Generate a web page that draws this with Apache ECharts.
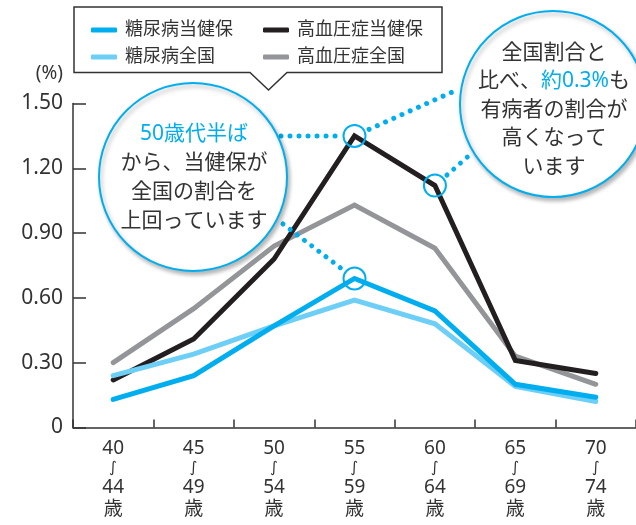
<!DOCTYPE html>
<html>
<head>
<meta charset="utf-8">
<script src="https://cdn.jsdelivr.net/npm/echarts@6/dist/echarts.min.js"></script>
<style>
html,body{margin:0;padding:0;background:#fff;}
#chart{width:636px;height:525px;}
</style>
</head>
<body>
<div id="chart"></div>
<script>
// ---- data ----
var categories = ['40～44歳', '45～49歳', '50～54歳', '55～59歳', '60～64歳', '65～69歳', '70～74歳'];
var dmKenpo    = [0.13, 0.24, 0.47, 0.69, 0.54, 0.20, 0.14];   // 糖尿病当健保
var dmZenkoku  = [0.24, 0.34, 0.47, 0.59, 0.48, 0.19, 0.12];   // 糖尿病全国
var htKenpo    = [0.22, 0.41, 0.78, 1.35, 1.12, 0.31, 0.25];   // 高血圧症当健保
var htZenkoku  = [0.30, 0.55, 0.84, 1.03, 0.83, 0.33, 0.20];   // 高血圧症全国
var yTicks     = [0, 0.30, 0.60, 0.90, 1.20, 1.50];
var seriesNames = ['糖尿病当健保', '糖尿病全国', '高血圧症当健保', '高血圧症全国'];

var C_BLUE = '#00AEEF', C_LBLUE = '#6DCFF6', C_BLACK = '#231F20', C_GRAY = '#939598';
var TXT = '#333333';
var FONT = "'Noto Sans', 'Noto Sans CJK JP', sans-serif";

var chart = echarts.init(document.getElementById('chart'), null, {renderer: 'canvas'});

function lineSeries(name, data, color) {
  return {
    name: name, type: 'line', data: data, symbol: 'none', smooth: false,
    lineStyle: {color: color, width: 5, cap: 'round', join: 'miter'},
    itemStyle: {color: color},
    emphasis: {disabled: true}
  };
}

var option = {
  animation: false,
  textStyle: {fontFamily: FONT},
  grid: {left: 73, right: -4, top: 103.5, bottom: 97.5},
  legend: [
    {
      data: [seriesNames[0], seriesNames[1]],
      orient: 'vertical', left: 86, top: 15,
      itemWidth: 26, itemHeight: 5, itemGap: 7, icon: 'roundRect',
      textStyle: {fontSize: 18, color: TXT, fontFamily: FONT, lineHeight: 20, padding: [0, 0, 0, 3]},
      selectedMode: false
    },
    {
      data: [seriesNames[2], seriesNames[3]],
      orient: 'vertical', left: 258, top: 15,
      itemWidth: 26, itemHeight: 5, itemGap: 7, icon: 'roundRect',
      textStyle: {fontSize: 18, color: TXT, fontFamily: FONT, lineHeight: 20, padding: [0, 0, 0, 3]},
      selectedMode: false
    }
  ],
  xAxis: {
    type: 'category', data: categories, boundaryGap: true,
    axisLine: {lineStyle: {color: TXT, width: 1.5}},
    axisTick: {show: true, inside: true, length: 8, interval: 0, lineStyle: {color: TXT, width: 1.5}},
    axisLabel: {
      interval: 0, margin: 11, color: TXT, fontSize: 19, lineHeight: 20, fontFamily: FONT,
      formatter: function (v) {
        var m = v.match(/^(\d+)～(\d+)(.*)$/);
        return '{n|' + m[1] + '}\n{w|∫}\n{n|' + m[2] + '}\n{k|' + m[3] + '}';
      },
      rich: {
        n: {fontSize: 19, lineHeight: 20, color: TXT, fontFamily: FONT},
        w: {fontSize: 15, lineHeight: 19, color: TXT, fontFamily: "'DejaVu Sans', sans-serif"},
        k: {fontSize: 19, lineHeight: 24, color: TXT, fontFamily: FONT}
      }
    },
    splitLine: {show: false}
  },
  yAxis: {
    type: 'value', min: 0, max: 1.5, interval: 0.3,
    name: '(%)', nameLocation: 'end', nameGap: 30,
    nameTextStyle: {color: TXT, fontSize: 19, align: 'right', verticalAlign: 'middle', padding: [0, 10, 0, 0], fontFamily: FONT},
    axisLine: {show: true, lineStyle: {color: TXT, width: 1.5}},
    axisTick: {show: true, inside: true, length: 13, lineStyle: {color: TXT, width: 1.5}},
    axisLabel: {
      color: TXT, fontSize: 21, margin: 10, fontFamily: FONT,
      formatter: function (v) {
        for (var i = 0; i < yTicks.length; i++) {
          if (Math.abs(yTicks[i] - v) < 1e-9) return v === 0 ? '0' : yTicks[i].toFixed(2);
        }
        return '';
      }
    },
    splitLine: {show: false}
  },
  series: [
    lineSeries(seriesNames[3], htZenkoku, C_GRAY),
    lineSeries(seriesNames[2], htKenpo, C_BLACK),
    lineSeries(seriesNames[1], dmZenkoku, C_LBLUE),
    lineSeries(seriesNames[0], dmKenpo, C_BLUE)
  ]
};
chart.setOption(option);

// ---- annotations anchored to data points ----
function px(i, v) { return chart.convertToPixel({xAxisIndex: 0, yAxisIndex: 0}, [i, v]); }
var m1 = px(3, htKenpo[3]);   // 55-59 高血圧症当健保
var m2 = px(3, dmKenpo[3]);   // 55-59 糖尿病当健保
var m3 = px(4, htKenpo[4]);   // 60-64 高血圧症当健保
var MR = 11;

function towards(from, to, d) {
  var dx = to[0] - from[0], dy = to[1] - from[1];
  var L = Math.sqrt(dx * dx + dy * dy);
  return [from[0] + dx / L * d, from[1] + dy / L * d];
}
function dotted(a, b) {
  return {
    type: 'line', z: 12,
    shape: {x1: a[0], y1: a[1], x2: b[0], y2: b[1]},
    style: {stroke: C_BLUE, lineWidth: 5, lineDash: [0.01, 9], lineCap: 'round'},
    silent: true
  };
}
function marker(p) {
  return {type: 'circle', z: 13, shape: {cx: p[0], cy: p[1], r: MR},
    style: {fill: 'none', stroke: C_BLUE, lineWidth: 2}, silent: true};
}

var L1s = [281, m1[1]];
var L2s = [283, 224];
var R1e = [459, 89];
var R2e = [472, 153];

var graphics = [
  // legend frame with pointer
  {
    type: 'polygon', z: 1,
    shape: {points: [[74, 7], [442, 7], [442, 72.5], [287, 72.5], [268.5, 90], [250, 72.5], [74, 72.5]]},
    style: {fill: '#fff', stroke: TXT, lineWidth: 1.5}, silent: true
  },
  dotted(L1s, towards(m1, L1s, MR + 4)),
  dotted(L2s, towards(m2, L2s, MR + 4)),
  dotted(towards(m1, R1e, MR + 5), R1e),
  dotted(towards(m3, R2e, MR + 5), R2e),
  marker(m1), marker(m2), marker(m3),
  // left callout
  {
    type: 'circle', z: 14, shape: {cx: 193, cy: 177, r: 94},
    style: {fill: '#fff', stroke: C_BLUE, lineWidth: 2,
      shadowBlur: 4, shadowOffsetX: 2, shadowOffsetY: 3, shadowColor: 'rgba(0,0,0,0.28)'},
    silent: true
  },
  {
    type: 'text', z: 15, x: 194, y: 178,
    style: {
      text: '{c|50歳代半ば}\n{d|から、当健保が}\n{d|全国の割合を}\n{d|上回っています}',
      align: 'center', verticalAlign: 'middle',
      rich: {
        c: {fill: C_BLUE, fontSize: 21, lineHeight: 29, fontFamily: FONT},
        d: {fill: TXT, fontSize: 21, lineHeight: 29, fontFamily: FONT}
      }
    },
    silent: true
  },
  // right callout
  {
    type: 'circle', z: 14, shape: {cx: 553, cy: 104, r: 93},
    style: {fill: '#fff', stroke: C_BLUE, lineWidth: 2,
      shadowBlur: 4, shadowOffsetX: 2, shadowOffsetY: 3, shadowColor: 'rgba(0,0,0,0.28)'},
    silent: true
  },
  {
    type: 'text', z: 15, x: 554, y: 110,
    style: {
      text: '{d|全国割合と}\n{d|比べ、}{c|約0.3%}{d|も}\n{d|有病者の割合が}\n{d|高くなって}\n{d|います}',
      align: 'center', verticalAlign: 'middle',
      rich: {
        c: {fill: C_BLUE, fontSize: 21, lineHeight: 28.5, fontFamily: FONT},
        d: {fill: TXT, fontSize: 21, lineHeight: 28.5, fontFamily: FONT}
      }
    },
    silent: true
  }
];
chart.setOption({graphic: graphics});
</script>
</body>
</html>
